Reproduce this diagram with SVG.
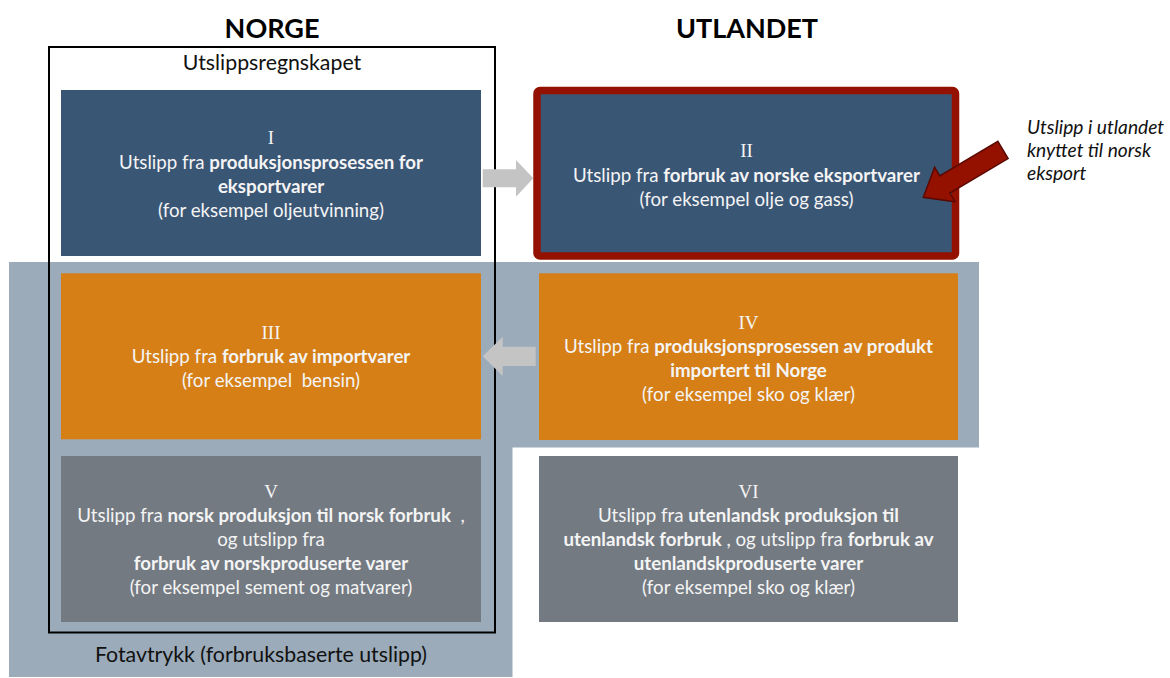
<svg xmlns="http://www.w3.org/2000/svg" width="1170" height="678" viewBox="0 0 1170 678">
<style>
.t{font-family:Lato,"Liberation Sans",sans-serif;font-size:18.7px;fill:#f4f4f4;text-anchor:middle}
.n{font-family:"Liberation Serif",serif;font-size:19px;fill:#f4f4f4;text-anchor:middle}
.b{font-weight:bold}
.h{font-family:Lato,"Liberation Sans",sans-serif;font-size:27px;font-weight:bold;fill:#000;text-anchor:middle}
.lbl{font-family:Lato,"Liberation Sans",sans-serif;font-size:21.3px;fill:#111;text-anchor:middle}
.it{font-family:Lato,"Liberation Sans",sans-serif;font-size:19.2px;font-style:italic;fill:#111}
.blue{fill:#3a5675}
.orange{fill:#d67f17}
.grey{fill:#737a82}
.garrow{fill:#c4c4c4}
</style>
<rect width="1170" height="678" fill="#fff"/>
<g id="footprint">
<polygon points="9,262 979,262 979,447.5 512.5,447.5 512.5,677 9,677" fill="#9babba"/>
<text class="lbl" x="261" y="662">Fotavtrykk (forbruksbaserte utslipp)</text>
</g>
<g id="headings">
<text class="h" x="272" y="38">NORGE</text>
<text class="h" x="747" y="38">UTLANDET</text>
</g>
<g id="node-I">
<rect class="blue" x="61" y="90" width="420" height="166"/>
<text class="n" x="271" y="144">I</text>
<text class="t" x="271" y="169">Utslipp fra <tspan class="b">produksjonsprosessen for</tspan></text>
<text class="t b" x="271" y="193">eksportvarer</text>
<text class="t" x="271" y="217">(for eksempel oljeutvinning)</text>
</g>
<g id="node-II">
<rect class="blue" x="537" y="90.5" width="418.5" height="165.5" rx="3" stroke="#941100" stroke-width="7.5"/>
<text class="n" x="746.5" y="157">II</text>
<text class="t" x="746.5" y="181.5">Utslipp fra <tspan class="b">forbruk av norske eksportvarer</tspan></text>
<text class="t" x="746.5" y="206">(for eksempel olje og gass)</text>
</g>
<g id="node-III">
<rect class="orange" x="61" y="273.3" width="420" height="166"/>
<text class="n" x="271" y="338.5">III</text>
<text class="t" x="271" y="362.7">Utslipp fra <tspan class="b">forbruk av importvarer</tspan></text>
<text class="t" x="271" y="387.3">(for eksempel&#160; bensin)</text>
</g>
<g id="node-IV">
<rect class="orange" x="539" y="273.3" width="419" height="166.7"/>
<text class="n" x="748.5" y="328.5">IV</text>
<text class="t" x="748.5" y="352.7">Utslipp fra <tspan class="b">produksjonsprosessen av produkt</tspan></text>
<text class="t b" x="748.5" y="376.5">importert til Norge</text>
<text class="t" x="748.5" y="400.7">(for eksempel sko og klær)</text>
</g>
<g id="node-V">
<rect class="grey" x="61" y="456" width="420" height="166"/>
<text class="n" x="271" y="497.5">V</text>
<text class="t" x="271" y="521.7">Utslipp fra <tspan class="b">norsk produksjon til norsk forbruk</tspan>&#160; ,</text>
<text class="t" x="271" y="546">og utslipp fra</text>
<text class="t b" x="271" y="570">forbruk av norskproduserte varer</text>
<text class="t" x="271" y="594">(for eksempel sement og matvarer)</text>
</g>
<g id="node-VI">
<rect class="grey" x="539" y="456" width="419" height="166"/>
<text class="n" x="748.5" y="497.5">VI</text>
<text class="t" x="748.5" y="521.7">Utslipp fra <tspan class="b">utenlandsk produksjon til</tspan></text>
<text class="t" x="748.5" y="546"><tspan class="b">utenlandsk forbruk</tspan> , og utslipp fra <tspan class="b">forbruk av</tspan></text>
<text class="t b" x="748.5" y="570">utenlandskproduserte varer</text>
<text class="t" x="748.5" y="594">(for eksempel sko og klær)</text>
</g>
<g id="accounting-frame">
<rect x="49" y="47" width="446" height="585.5" fill="none" stroke="#000" stroke-width="2"/>
<text class="lbl" x="272" y="70">Utslippsregnskapet</text>
</g>
<g id="connectors">
<polygon class="garrow" points="482.7,169.3 516,169.3 516,160 533.3,178.3 516,196.7 516,187.3 482.7,187.3"/>
<polygon class="garrow" points="535.7,346.7 502.7,346.7 502.7,336.7 482.7,356.3 502.7,376 502.7,366 535.7,366"/>
<polygon points="997.9,141.4 1008.1,158.6 949.9,193.1 955,201.7 923.3,197.3 934.6,167.3 939.7,175.9" fill="#941100" stroke="#5a0800" stroke-width="1.5" stroke-linejoin="miter"/>
</g>
<g id="annotation">
<text class="it" x="1027" y="134">Utslipp i utlandet</text>
<text class="it" x="1027" y="157">knyttet til norsk</text>
<text class="it" x="1027" y="180">eksport</text>
</g>
</svg>
